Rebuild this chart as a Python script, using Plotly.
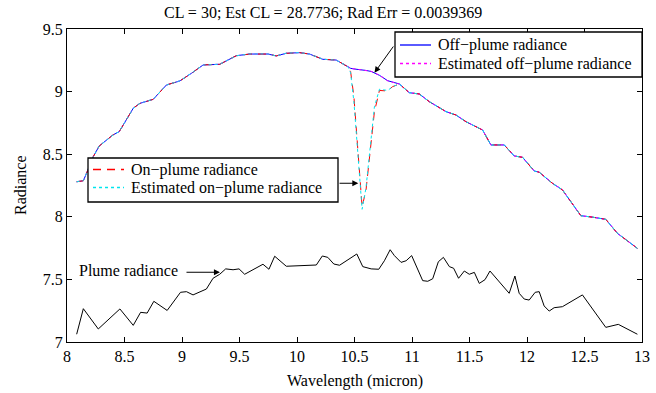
import plotly.graph_objects as go

# Upper curves wavelength grid (micron)
wl = [8.084, 8.142, 8.17, 8.228, 8.28, 8.40, 8.454, 8.576, 8.634, 8.749,
      8.865, 8.981, 9.082, 9.184, 9.328, 9.473, 9.589, 9.646, 9.747, 9.82,
      9.907, 10.023, 10.109, 10.225, 10.341, 10.442, 10.466, 10.495, 10.53, 10.566,
      10.60, 10.645, 10.673, 10.717, 10.789, 10.83, 10.89, 10.977, 11.064, 11.151,
      11.296, 11.382, 11.469, 11.614, 11.686, 11.802, 11.889, 11.961, 12.063, 12.106,
      12.221, 12.308, 12.468, 12.569, 12.685, 12.786, 12.96]

off_plume = [8.280, 8.288, 8.348, 8.480, 8.565, 8.654, 8.680, 8.867, 8.906, 8.938,
             9.053, 9.085, 9.146, 9.213, 9.218, 9.287, 9.300, 9.298, 9.300, 9.285,
             9.306, 9.311, 9.300, 9.258, 9.252, 9.199, 9.186, 9.181, 9.178, 9.173,
             9.169, 9.161, 9.150, 9.130, 9.087, 9.075, 9.061, 8.991, 8.981, 8.919,
             8.840, 8.813, 8.760, 8.693, 8.574, 8.574, 8.486, 8.475, 8.366, 8.356,
             8.268, 8.215, 8.009, 7.997, 7.980, 7.868, 7.748]

est_off_plume = [8.280, 8.289, 8.349, 8.479, 8.566, 8.653, 8.681, 8.866, 8.907, 8.939,
                 9.052, 9.086, 9.147, 9.212, 9.219, 9.286, 9.301, 9.299, 9.301, 9.284,
                 9.307, 9.312, 9.299, 9.259, 9.251, 9.200, 9.187, 9.182, 9.177, 9.174,
                 9.168, 9.162, 9.149, 9.131, 9.086, 9.076, 9.060, 8.992, 8.980, 8.920,
                 8.839, 8.814, 8.759, 8.694, 8.573, 8.575, 8.485, 8.476, 8.365, 8.357,
                 8.267, 8.216, 8.008, 7.998, 7.979, 7.869, 7.747]

on_plume = [8.280, 8.288, 8.348, 8.480, 8.565, 8.654, 8.680, 8.867, 8.906, 8.938,
            9.053, 9.085, 9.146, 9.213, 9.218, 9.287, 9.300, 9.298, 9.300, 9.285,
            9.306, 9.311, 9.300, 9.258, 9.252, 9.199, 9.161, 8.959, 8.514, 8.080,
            8.212, 8.595, 8.838, 9.009, 9.005, 9.039, 9.061, 8.991, 8.981, 8.919,
            8.840, 8.813, 8.760, 8.693, 8.574, 8.574, 8.486, 8.475, 8.366, 8.356,
            8.268, 8.215, 8.009, 7.997, 7.980, 7.868, 7.748]

est_on_plume = [8.280, 8.289, 8.349, 8.479, 8.566, 8.653, 8.681, 8.866, 8.907, 8.939,
                9.052, 9.086, 9.147, 9.212, 9.219, 9.286, 9.301, 9.299, 9.301, 9.284,
                9.307, 9.312, 9.299, 9.259, 9.251, 9.200, 9.150, 8.918, 8.474, 8.060,
                8.232, 8.636, 8.878, 9.019, 9.009, 9.039, 9.060, 8.992, 8.980, 8.920,
                8.839, 8.814, 8.759, 8.694, 8.573, 8.575, 8.485, 8.476, 8.365, 8.357,
                8.267, 8.216, 8.008, 7.998, 7.979, 7.869, 7.747]

# Plume radiance curve
wl_plume = [8.084, 8.142, 8.272, 8.46, 8.576, 8.64, 8.697, 8.755, 8.871, 8.987,
            9.039, 9.096, 9.212, 9.27, 9.328, 9.38, 9.444, 9.496, 9.545, 9.704,
            9.756, 9.806, 9.907, 10.168, 10.22, 10.268, 10.32, 10.37, 10.52, 10.572,
            10.645, 10.711, 10.76, 10.81, 10.847, 10.905, 10.949, 10.997, 11.093, 11.137,
            11.18, 11.229, 11.273, 11.325, 11.362, 11.405, 11.455, 11.498, 11.542, 11.585,
            11.635, 11.678, 11.845, 11.895, 11.932, 11.976, 12.019, 12.071, 12.106, 12.149,
            12.193, 12.236, 12.308, 12.482, 12.685, 12.794, 12.96]
plume = [7.062, 7.266, 7.104, 7.264, 7.133, 7.237, 7.231, 7.325, 7.252, 7.397,
         7.402, 7.376, 7.423, 7.509, 7.541, 7.584, 7.577, 7.584, 7.541, 7.621,
         7.581, 7.685, 7.605, 7.615, 7.687, 7.676, 7.623, 7.613, 7.703, 7.602,
         7.584, 7.581, 7.649, 7.737, 7.690, 7.636, 7.649, 7.690, 7.490, 7.485,
         7.505, 7.641, 7.676, 7.602, 7.589, 7.509, 7.567, 7.541, 7.556, 7.468,
         7.498, 7.567, 7.389, 7.527, 7.389, 7.343, 7.335, 7.397, 7.402, 7.288,
         7.247, 7.274, 7.282, 7.376, 7.117, 7.141, 7.062]

x_ticks = [8, 8.5, 9, 9.5, 10, 10.5, 11, 11.5, 12, 12.5, 13]
y_ticks = [7, 7.5, 8, 8.5, 9, 9.5]

title_text = "CL = 30; Est CL = 28.7736; Rad Err = 0.0039369"
legend1_labels = ["Off\u2212plume radiance", "Estimated off\u2212plume radiance"]
legend2_labels = ["On\u2212plume radiance", "Estimated on\u2212plume radiance"]

FONT = "Liberation Serif"
W, H = 656, 393
ML, MR, MT, MB = 67, 14, 29, 51
PW, PH = W - ML - MR, H - MT - MB


def px(xpix):
    return (xpix - ML) / PW


def py(ypix):
    return (H - MB - ypix) / PH


styles = {
    "off": dict(color="#0000ff", width=1),
    "est_off": dict(color="#ff00ff", width=1, dash="3px,3px"),
    "on": dict(color="#ff0000", width=1, dash="8px,6px"),
    "est_on": dict(color="#00e5ee", width=1, dash="3px,3px"),
}

fig = go.Figure()
fig.add_trace(go.Scatter(x=wl, y=off_plume, mode="lines", name=legend1_labels[0],
                         line=styles["off"], showlegend=False))
fig.add_trace(go.Scatter(x=wl, y=est_off_plume, mode="lines", name=legend1_labels[1],
                         line=styles["est_off"], showlegend=False))
fig.add_trace(go.Scatter(x=wl, y=on_plume, mode="lines", name=legend2_labels[0],
                         line=styles["on"], showlegend=False))
fig.add_trace(go.Scatter(x=wl, y=est_on_plume, mode="lines", name=legend2_labels[1],
                         line=styles["est_on"], showlegend=False))
fig.add_trace(go.Scatter(x=wl_plume, y=plume, mode="lines", name="Plume radiance",
                         line=dict(color="black", width=1), showlegend=False))

txtfont = dict(family=FONT, size=16, color="black")


def add_legend(x0, x1, y0, y1, entries):
    fig.add_shape(type="rect", xref="paper", yref="paper",
                  x0=px(x0), x1=px(x1), y0=py(y1), y1=py(y0),
                  line=dict(color="black", width=1.3), fillcolor="white", layer="above")
    for (label, key, ypix) in entries:
        st = styles[key]
        fig.add_shape(type="line", xref="paper", yref="paper",
                      x0=px(x0 + 5), x1=px(x0 + 36), y0=py(ypix), y1=py(ypix),
                      line=dict(color=st["color"], width=1.3, dash=st.get("dash", "solid")),
                      layer="above")
        fig.add_annotation(xref="paper", yref="paper", x=px(x0 + 41), y=py(ypix),
                           text=label, showarrow=False, xanchor="left", yanchor="middle",
                           font=txtfont)


add_legend(395, 642, 32, 77, [(legend1_labels[0], "off", 45),
                              (legend1_labels[1], "est_off", 63.5)])
add_legend(88, 338, 158, 202, [(legend2_labels[0], "on", 169.5),
                               (legend2_labels[1], "est_on", 187.5)])

arrow_common = dict(xref="x", yref="y", axref="x", ayref="y", text="", showarrow=True,
                    arrowhead=2, arrowsize=1.2, arrowwidth=1, arrowcolor="black")
fig.add_annotation(x=10.674, y=9.151, ax=10.847, ay=9.372, **arrow_common)
fig.add_annotation(x=10.533, y=8.268, ax=10.357, ay=8.268, **arrow_common)
fig.add_annotation(x=9.33, y=7.557, ax=9.026, ay=7.557, **arrow_common)
fig.add_annotation(x=8.09, y=7.575, xref="x", yref="y", text="Plume radiance", showarrow=False,
                   xanchor="left", yanchor="middle", font=txtfont)

fig.add_annotation(x=px(323), y=py(12), xref="paper", yref="paper", text=title_text,
                   showarrow=False, xanchor="center", yanchor="middle", font=txtfont)
fig.add_annotation(x=px(354.5), y=py(381), xref="paper", yref="paper", text="Wavelength (micron)",
                   showarrow=False, xanchor="center", yanchor="middle", font=txtfont)
fig.add_annotation(x=px(20), y=py(185), xref="paper", yref="paper", text="Radiance", textangle=-90,
                   showarrow=False, xanchor="center", yanchor="middle", font=txtfont)

axis_common = dict(showgrid=False, zeroline=False, showline=True, linecolor="black", linewidth=1,
                   mirror="allticks", ticks="inside", ticklen=5, tickcolor="black", tickwidth=1,
                   tickfont=txtfont, automargin=False)
fig.update_xaxes(range=[8, 13], tickvals=x_ticks, ticktext=[f"{v:g}" for v in x_ticks], **axis_common)
fig.update_yaxes(range=[7, 9.5], tickvals=y_ticks, ticktext=[f"{v:g}" for v in y_ticks], **axis_common)

fig.update_layout(
    width=W, height=H,
    margin=dict(l=ML, r=MR, t=MT, b=MB, pad=0),
    paper_bgcolor="white", plot_bgcolor="white",
    showlegend=False,
)

fig.write_html("out.html")
